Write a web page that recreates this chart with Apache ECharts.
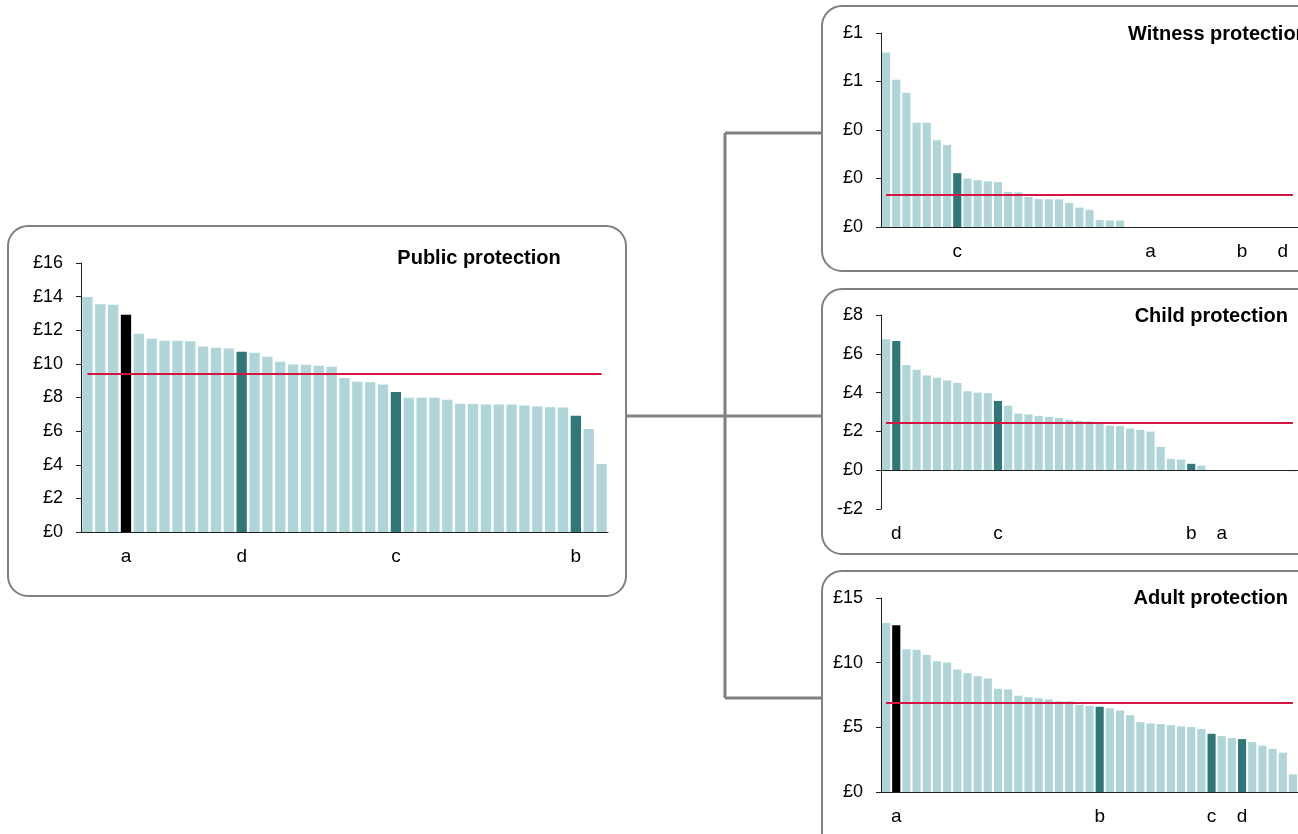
<!DOCTYPE html>
<html>
<head>
<meta charset="utf-8">
<title>Protection spend per head</title>
<script src="https://cdn.jsdelivr.net/npm/echarts@6/dist/echarts.min.js"></script>
<style>
  body { margin: 0; background: #fff; }
  #chart { width: 1298px; height: 834px; }
</style>
</head>
<body>
<div id="chart"></div>
<script>
// 41 areas, each panel sorted high to low
var areas = [];
for (var i = 1; i <= 41; i++) areas.push("area" + i);

var publicValues = [13.98, 13.55, 13.51, 12.92, 11.79, 11.49, 11.37, 11.37, 11.35, 11.04, 10.96, 10.92, 10.72, 10.66, 10.42, 10.13, 9.97, 9.95, 9.89, 9.83, 9.16, 8.94, 8.9, 8.78, 8.33, 7.99, 7.99, 7.99, 7.87, 7.63, 7.61, 7.58, 7.58, 7.58, 7.52, 7.46, 7.42, 7.4, 6.92, 6.13, 4.05];
var publicMarks = { a: 3, d: 12, c: 24, b: 38 };
var publicAvg = 9.41;
var publicAxis = [0, 16, 2];

var witnessValues = [0.72, 0.607, 0.554, 0.43, 0.43, 0.358, 0.338, 0.222, 0.2, 0.193, 0.188, 0.185, 0.145, 0.143, 0.124, 0.115, 0.114, 0.114, 0.099, 0.08, 0.071, 0.029, 0.027, 0.027, 0, 0, 0, 0, 0, 0, 0, 0, 0, 0, 0, 0, 0, 0, 0, 0, 0];
var witnessMarks = { c: 7, a: 26, b: 35, d: 39 };
var witnessAvg = 0.133;
var witnessAxis = [0, 0.8, 0.2];

var childValues = [6.75, 6.66, 5.42, 5.18, 4.88, 4.76, 4.62, 4.5, 4.07, 4.0, 3.97, 3.57, 3.33, 2.92, 2.87, 2.8, 2.75, 2.7, 2.59, 2.54, 2.51, 2.45, 2.3, 2.28, 2.15, 2.08, 1.99, 1.2, 0.58, 0.55, 0.33, 0.24, 0, 0, 0, 0, 0, 0, 0, 0, -0.06];
var childMarks = { d: 1, c: 11, b: 30, a: 33 };
var childAvg = 2.45;
var childAxis = [-2, 8, 2];

var adultValues = [13.07, 12.89, 11.04, 10.99, 10.6, 10.11, 10.01, 9.47, 9.18, 8.95, 8.77, 7.98, 7.92, 7.44, 7.33, 7.25, 7.15, 7.02, 7.02, 6.74, 6.66, 6.59, 6.48, 6.3, 5.94, 5.4, 5.3, 5.25, 5.17, 5.07, 5.02, 4.86, 4.5, 4.32, 4.17, 4.09, 3.86, 3.58, 3.32, 3.04, 1.36];
var adultMarks = { a: 1, b: 21, c: 32, d: 35 };
var adultAvg = 6.89;
var adultAxis = [0, 15, 5];

var LIGHT = "#afd5d8";
var DARK = "#307878";
var BLACK = "#000000";
var RED = "#d4153f";
var GREY = "#808080";
var FONT = "Liberation Sans, Arial, sans-serif";

var panels = [
  { values: publicValues, marks: publicMarks, avg: publicAvg, axis: publicAxis,
    grid: { left: 81, top: 263, width: 527, height: 269 } },
  { values: witnessValues, marks: witnessMarks, avg: witnessAvg, axis: witnessAxis,
    grid: { left: 881, top: 33, width: 418, height: 194 } },
  { values: childValues, marks: childMarks, avg: childAvg, axis: childAxis,
    grid: { left: 881, top: 315, width: 418, height: 194 } },
  { values: adultValues, marks: adultMarks, avg: adultAvg, axis: adultAxis,
    grid: { left: 881, top: 598, width: 418, height: 194 } }
];

function money(v) {
  var r = Math.round(v);
  return r < 0 ? "-£" + Math.abs(r) : "£" + r;
}

var grids = [], xAxes = [], yAxes = [], series = [];

panels.forEach(function (p, k) {
  var labels = areas.map(function () { return ""; });
  var colors = areas.map(function () { return LIGHT; });
  Object.keys(p.marks).forEach(function (m) {
    labels[p.marks[m]] = m;
    colors[p.marks[m]] = m === "a" ? BLACK : DARK;
  });

  grids.push(Object.assign({ containLabel: false }, p.grid));

  xAxes.push({
    type: "category",
    gridIndex: k,
    data: areas,
    axisLine: { show: p.axis[0] === 0, onZero: false, lineStyle: { color: "#222", width: 1 } },
    axisTick: { show: false },
    axisLabel: {
      interval: 0, margin: 15, color: "#000", fontSize: 19, fontFamily: FONT,
      formatter: function (v, idx) { return labels[idx]; }
    }
  });

  yAxes.push({
    type: "value",
    gridIndex: k,
    min: p.axis[0], max: p.axis[1], interval: p.axis[2],
    splitLine: { show: false },
    axisLine: { show: true, lineStyle: { color: "#222", width: 1 } },
    axisTick: { show: true, length: 5, lineStyle: { color: "#222" } },
    axisLabel: { margin: 18, color: "#000", fontSize: 18, fontFamily: FONT, formatter: money }
  });

  var lines = [[
    { coord: [areas[0], p.avg] },
    { coord: [areas[areas.length - 1], p.avg] }
  ]];
  if (p.axis[0] < 0) {
    lines.push({ yAxis: 0, lineStyle: { color: "#222", width: 1, type: "solid" } });
  }

  series.push({
    type: "bar",
    xAxisIndex: k,
    yAxisIndex: k,
    barCategoryGap: "20%",
    data: p.values.map(function (v, i) {
      return { value: v, itemStyle: { color: colors[i] } };
    }),
    markLine: {
      silent: true,
      symbol: "none",
      label: { show: false },
      lineStyle: { color: RED, width: 2, type: "solid" },
      data: lines
    }
  });
});

function box(x, y, w, h) {
  return {
    type: "rect",
    shape: { x: x, y: y, width: w, height: h, r: 20 },
    style: { fill: "none", stroke: GREY, lineWidth: 2 }
  };
}
function seg(x1, y1, x2, y2) {
  return {
    type: "line",
    shape: { x1: x1, y1: y1, x2: x2, y2: y2 },
    style: { stroke: GREY, lineWidth: 3 }
  };
}
function title(text, x, y, align) {
  return {
    type: "text",
    style: { text: text, x: x, y: y, textAlign: align, textVerticalAlign: "middle",
             font: "bold 20px " + FONT, fill: "#000" }
  };
}

var chart = echarts.init(document.getElementById("chart"));
chart.setOption({
  animation: false,
  grid: grids,
  xAxis: xAxes,
  yAxis: yAxes,
  series: series,
  graphic: [
    box(8, 226, 618, 370),
    box(822, 6, 520, 265),
    box(822, 289, 520, 265),
    box(822, 571, 520, 290),
    seg(627, 416, 822, 416),
    seg(725, 133, 725, 698),
    seg(725, 133, 822, 133),
    seg(725, 698, 822, 698),
    title("Public protection", 479, 258, "center"),
    title("Witness protection", 1128, 34, "left"),
    title("Child protection", 1288, 316, "right"),
    title("Adult protection", 1288, 598, "right")
  ]
});
</script>
</body>
</html>
